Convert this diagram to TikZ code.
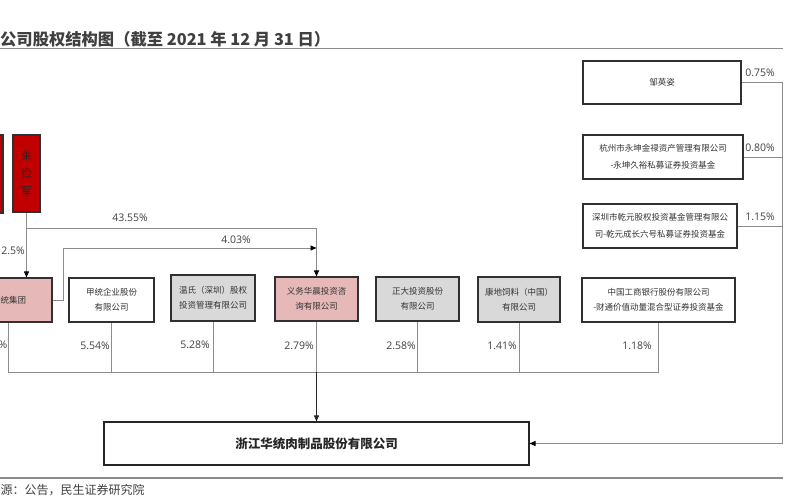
\documentclass[tikz,border=0pt]{standalone}
\usepackage{fontspec}
\setmainfont{Noto Sans CJK SC}
\newfontfamily\labfont{Open Sans}
\usetikzlibrary{arrows.meta}
\definecolor{boxline}{HTML}{303030}
\definecolor{conn}{HTML}{8C8C8C}
\definecolor{pinkfill}{HTML}{E6B9B8}
\definecolor{grayfill}{HTML}{D9D9D9}
\definecolor{redfill}{HTML}{C00000}
\definecolor{txt}{HTML}{333333}
\definecolor{titlecol}{HTML}{404040}
\tikzset{
  box/.style={draw=boxline, line width=1.1pt, fill=white, inner sep=1pt, align=center,
    text=txt, font=\fontsize{8.5}{15}\selectfont},
  pinkbox/.style={box, fill=pinkfill},
  graybox/.style={box, fill=grayfill},
  redbox/.style={draw=boxline, line width=1.1pt, fill=redfill, inner sep=1pt, align=center,
    text=black!85, font=\fontsize{11}{17.5}\selectfont},
  mainbox/.style={draw=black!85, line width=1.1pt, fill=white, font=\bfseries\fontsize{12.5}{15}\selectfont, text=black!85},
  conline/.style={draw=conn, line width=0.9pt},
  arrline/.style={conline, -{Triangle[length=6pt,width=5pt]}, arrows={[color=black]}},
  darkarr/.style={draw=black!85, line width=1pt, -{Triangle[length=6pt,width=5pt]}},
  pct/.style={font=\labfont\fontsize{10.5}{12}\selectfont, text=titlecol, inner sep=0pt},
  rulecol/.style={draw=conn, line width=1.3pt}
}
\begin{document}
\begin{tikzpicture}[x=1pt,y=-1pt]
\useasboundingbox (0,0) rectangle (788,501);
\clip (0,0) rectangle (788,501);
\fill[white] (0,0) rectangle (788,501);

% title and rules
\node[anchor=west, inner sep=0pt, text=titlecol, font=\bfseries\fontsize{16.3}{19}\selectfont] (title) at (0,39) {公司股权结构图（截至 2021 年 12 月 31 日）};
\coordinate (r1l) at (0,48.5);
\coordinate (r1r) at (783,48.5);
\draw[rulecol] (r1l) -- (r1r);
\coordinate (r2l) at (0,478);
\coordinate (r2r) at (783,478);
\draw[rulecol] (r2l) -- (r2r);
\node[anchor=west, inner sep=0pt, text=titlecol, font=\fontsize{12}{14}\selectfont] (src) at (0.5,490) {源：公告，民生证券研究院};

% top red boxes
\node[redbox, minimum width=27pt, minimum height=78pt] (redL) at (-10.5,174) {};
\node[redbox, minimum width=27pt, minimum height=77pt] (zhu) at (26.5,173.5) {朱\\俭\\军};

% middle row
\node[pinkbox, minimum width=87pt, minimum height=44pt] (huatong) at (8.5,300) {};
\node[anchor=west, inner sep=0pt, text=txt, font=\fontsize{8.5}{15}\selectfont] (htlabel) at (0.5,300) {统集团};
\node[box, minimum width=85pt, minimum height=44pt] (jiatong) at (111.5,300) {甲统企业股份\\有限公司};
\node[graybox, minimum width=84pt, minimum height=46pt] (wen) at (213,298) {温氏（深圳）股权\\投资管理有限公司};
\node[pinkbox, minimum width=83pt, minimum height=44pt] (yiwu) at (316.5,299) {义务华晨投资咨\\询有限公司};
\node[graybox, minimum width=83pt, minimum height=44pt] (zhengda) at (417.5,299) {正大投资股份\\有限公司};
\node[graybox, minimum width=82pt, minimum height=45pt] (kangdi) at (519,299.5) {康地饲料（中国）\\有限公司};
\node[box, minimum width=153pt, minimum height=44pt] (icbc) at (658.5,300) {中国工商银行股份有限公司\\-财通价值动量混合型证券投资基金};

% right column
\node[box, minimum width=158pt, minimum height=43pt] (zou) at (662,82.5) {邹英姿};
\node[box, minimum width=160pt, minimum height=44pt, font=\fontsize{8.5}{17}\selectfont] (hz) at (663,157) {杭州市永坤金禄资产管理有限公司\\-永坤久裕私募证券投资基金};
\node[box, minimum width=154pt, minimum height=44pt, font=\fontsize{8.5}{17}\selectfont] (sz) at (660,226) {深圳市乾元股权投资基金管理有限公\\司-乾元成长六号私募证券投资基金};

% main box
\node[mainbox, minimum width=425pt, minimum height=43pt] (main) at (316.5,443.5) {浙江华统肉制品股份有限公司};

% coordinates
\coordinate (bus) at (0,372);
\coordinate (rx) at (782,0);
\coordinate (j1) at (26.5,228);
\coordinate (k1) at (63,248);
\coordinate (k2) at (316.5,248);

% top connectors
\draw[arrline] (zhu.south) -- (zhu.south |- huatong.north);
\draw[arrline] (j1) -| (yiwu.north);
\draw[arrline] (huatong.east) -| (k1) -- (k2);

% bus
\draw[conline] (huatong.south) |- (icbc.south |- bus) -- (icbc.south);
\draw[conline] (jiatong.south) -- (jiatong.south |- bus);
\draw[conline] (wen.south) -- (wen.south |- bus);
\draw[conline] (yiwu.south) -- (yiwu.south |- bus);
\draw[conline] (zhengda.south) -- (zhengda.south |- bus);
\draw[conline] (kangdi.south) -- (kangdi.south |- bus);
\draw[darkarr] (yiwu.south |- bus) -- (main.north);

% right connectors
\draw[conline] (hz.east) -- (hz.east -| rx);
\draw[conline] (sz.east) -- (sz.east -| rx);
\draw[arrline] (zou.east) -- (zou.east -| rx) |- (main.east);

% percentage labels
\node[pct] (p1) at (130,218) {43.55\%};
\node[pct] (p2) at (236,240) {4.03\%};
\node[pct, anchor=east] (p3) at (25,251) {2.5\%};
\node[pct, anchor=east] (p4) at (7.5,345) {\%};
\node[pct] (p5) at (95,346) {5.54\%};
\node[pct] (p6) at (195,345) {5.28\%};
\node[pct] (p7) at (299,346) {2.79\%};
\node[pct] (p8) at (401,346) {2.58\%};
\node[pct] (p9) at (502,346) {1.41\%};
\node[pct] (p10) at (637,346) {1.18\%};
\node[pct] (p11) at (760,73) {0.75\%};
\node[pct] (p12) at (760,148) {0.80\%};
\node[pct] (p13) at (760,217) {1.15\%};
\end{tikzpicture}
\end{document}
